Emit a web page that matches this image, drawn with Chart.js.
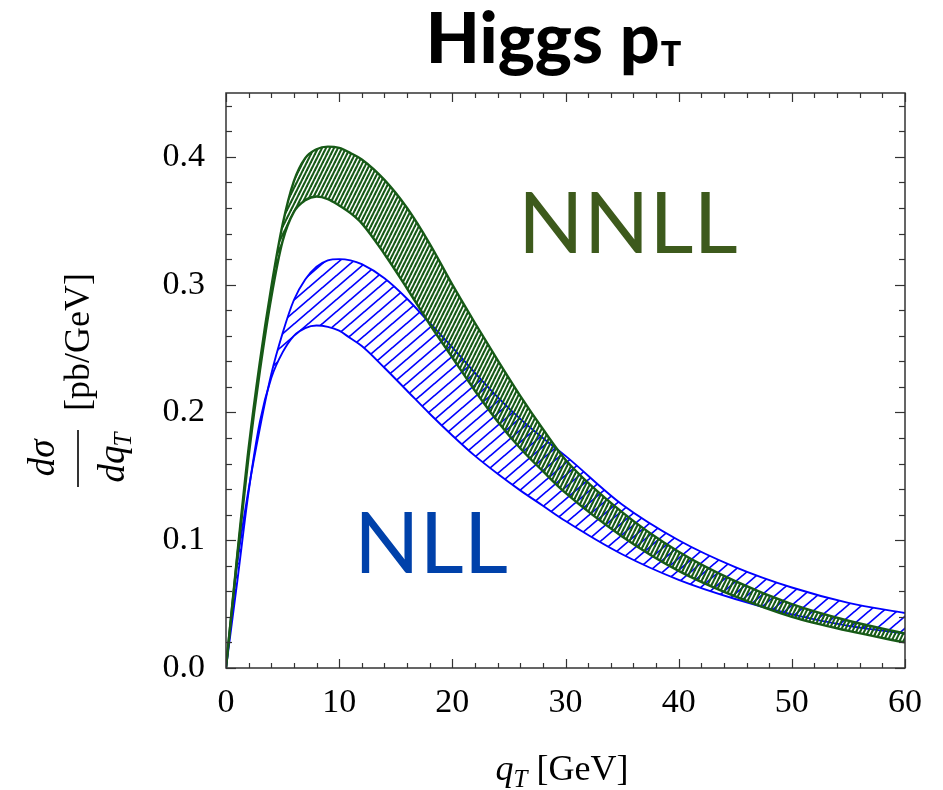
<!DOCTYPE html>
<html>
<head>
<meta charset="utf-8">
<script src="https://cdn.jsdelivr.net/npm/chart.js@4.4.0/dist/chart.umd.min.js"></script>
<style>
  html, body { margin: 0; padding: 0; background: #fff; }
  canvas { display: block; }
</style>
</head>
<body>
<canvas id="chart" width="943" height="790"></canvas>
<script>
// qT grid (GeV) and band edges (pb/GeV)
const qT = [0, 1, 2, 3, 4, 5, 6, 7, 8, 9, 10, 11, 12, 14, 16, 18, 20, 22, 24, 26, 28, 30, 35, 40, 45, 50, 55, 60];
const nnllUpper = [0, 0.089, 0.172, 0.240, 0.298, 0.347, 0.381, 0.399, 0.406, 0.408, 0.407, 0.403, 0.398, 0.382, 0.360, 0.332, 0.300, 0.270, 0.241, 0.213, 0.187, 0.163, 0.122, 0.091, 0.068, 0.050, 0.037, 0.027];
const nnllLower = [0, 0.087, 0.166, 0.233, 0.290, 0.334, 0.357, 0.366, 0.369, 0.367, 0.362, 0.356, 0.348, 0.324, 0.297, 0.269, 0.243, 0.217, 0.193, 0.172, 0.154, 0.137, 0.103, 0.076, 0.056, 0.040, 0.029, 0.020];
const nllUpper = [0, 0.082, 0.140, 0.188, 0.230, 0.262, 0.288, 0.304, 0.314, 0.319, 0.320, 0.319, 0.316, 0.305, 0.289, 0.270, 0.251, 0.231, 0.212, 0.195, 0.180, 0.166, 0.128, 0.100, 0.079, 0.063, 0.051, 0.043];
const nllLower = [0, 0.068, 0.138, 0.193, 0.227, 0.247, 0.260, 0.266, 0.268, 0.267, 0.264, 0.258, 0.252, 0.235, 0.217, 0.199, 0.182, 0.166, 0.152, 0.139, 0.127, 0.115, 0.089, 0.069, 0.054, 0.042, 0.033, 0.027];

const xTicks = [0, 10, 20, 30, 40, 50, 60];
const yTicks = [0, 0.1, 0.2, 0.3, 0.4];

const titleText = 'Higgs p';
const titleSub = 'T';
const bandNames = ['NNLL', 'NLL'];

const greenLine = '#175a17';
const blueLine = '#0000ff';

function hatch(w, h, color, width) {
  const c = document.createElement('canvas');
  c.width = w; c.height = h;
  const g = c.getContext('2d');
  g.strokeStyle = color;
  g.lineWidth = width;
  g.lineCap = 'square';
  [-w, 0, w].forEach(off => {
    g.beginPath();
    g.moveTo(off, h);
    g.lineTo(off + w, 0);
    g.stroke();
  });
  return g.createPattern(c, 'repeat');
}

function pts(ys) {
  return qT.map((q, i) => ({ x: q, y: ys[i] }));
}

const ctx = document.getElementById('chart').getContext('2d');

const decor = {
  id: 'decor',
  beforeDraw(chart) {
    const c = chart.ctx;
    c.save();
    c.fillStyle = '#fff';
    c.fillRect(0, 0, chart.width, chart.height);
    c.restore();
  },
  afterDatasetsDraw(chart) {
    const c = chart.ctx;
    const a = chart.chartArea;
    const x = chart.scales.x, y = chart.scales.y;
    c.save();
    c.strokeStyle = '#333';
    c.lineWidth = 1.2;
    const seg = (x1, y1, x2, y2) => { c.beginPath(); c.moveTo(x1, y1); c.lineTo(x2, y2); c.stroke(); };
    for (let q = 0; q <= 60; q += 2) {
      const px = Math.round(x.getPixelForValue(q)) + 0.5;
      const len = q % 10 === 0 ? 9 : 5;
      seg(px, a.bottom, px, a.bottom - len);
      seg(px, a.top, px, a.top + len);
    }
    for (let i = 0; i <= 22; i++) {
      const py = Math.round(y.getPixelForValue(i * 0.02)) + 0.5;
      const len = i % 5 === 0 ? 10 : 6;
      seg(a.left, py, a.left + len, py);
      seg(a.right, py, a.right - len, py);
    }
    c.lineWidth = 1.5;
    c.strokeRect(a.left, a.top, a.right - a.left, a.bottom - a.top);
    c.restore();
  },
  afterDraw(chart) {
    const c = chart.ctx;
    const x = chart.scales.x, y = chart.scales.y;
    c.save();
    c.fillStyle = '#000';
    c.textBaseline = 'alphabetic';

    // main title
    c.font = '900 70px Lato';
    const w1 = c.measureText(titleText).width;
    c.font = '900 34px Lato';
    const w2 = c.measureText(titleSub).width;
    let tx = 553 - (w1 + w2) / 2;
    c.font = '900 70px Lato';
    c.fillText(titleText, tx, 63);
    c.font = '900 34px Lato';
    c.fillText(titleSub, tx + w1 + 1, 66);

    // x axis title
    c.font = 'italic 36px "Liberation Serif"';
    const qw = c.measureText('q').width;
    c.font = 'italic 25px "Liberation Serif"';
    const tw = c.measureText('T').width;
    c.font = '36px "Liberation Serif"';
    const gw = c.measureText(' [GeV]').width;
    let xx = 562 - (qw + tw + gw) / 2;
    c.font = 'italic 36px "Liberation Serif"';
    c.fillText('q', xx, 780);
    c.font = 'italic 25px "Liberation Serif"';
    c.fillText('T', xx + qw, 787);
    c.font = '36px "Liberation Serif"';
    c.fillText(' [GeV]', xx + qw + tw, 780);

    // y axis title (rotated)
    c.translate(78, 380);
    c.rotate(-Math.PI / 2);
    c.textAlign = 'center';
    c.font = 'italic 37px "Liberation Serif"';
    c.fillText('dσ', -78, -24);
    c.lineWidth = 1.6;
    c.strokeStyle = '#000';
    c.beginPath(); c.moveTo(-107, 0); c.lineTo(-50, 0); c.stroke();
    c.textAlign = 'left';
    const dw = c.measureText('dq').width;
    const dx = -78 - (dw + 12) / 2;
    c.fillText('dq', dx, 46);
    c.font = 'italic 25px "Liberation Serif"';
    c.fillText('T', dx + dw - 1, 53);
    c.font = '36px "Liberation Serif"';
    c.textAlign = 'center';
    c.fillText('[pb/GeV]', 38, 11);
    c.restore();

    // band names
    c.save();
    c.font = '86px Lato';
    c.textBaseline = 'alphabetic';
    c.fillStyle = '#3d5a1c';
    c.fillText(bandNames[0], x.getPixelForValue(25.8), y.getPixelForValue(0.325));
    c.fillStyle = '#0041aa';
    c.fillText(bandNames[1], x.getPixelForValue(11.3), y.getPixelForValue(0.0744));
    c.restore();
  }
};

const chart = new Chart(ctx, {
  type: 'line',
  data: {
    datasets: [
      { label: 'NNLL low', data: pts(nnllLower), borderColor: greenLine, borderWidth: 2.4, fill: false, order: 1 },
      { label: 'NNLL high', data: pts(nnllUpper), borderColor: greenLine, borderWidth: 2.4,
        fill: '-1', backgroundColor: hatch(4, 8, '#175a17', 2.1), order: 1 },
      { label: 'NLL low', data: pts(nllLower), borderColor: blueLine, borderWidth: 1.9, fill: false, order: 2 },
      { label: 'NLL high', data: pts(nllUpper), borderColor: blueLine, borderWidth: 1.9,
        fill: '-1', backgroundColor: hatch(14, 12, blueLine, 1.7), order: 2 }
    ]
  },
  options: {
    responsive: false,
    animation: false,
    devicePixelRatio: 1,
    layout: { padding: { left: 0, right: 38, top: 93, bottom: 0 } },
    elements: {
      point: { radius: 0 },
      line: { cubicInterpolationMode: 'monotone' }
    },
    plugins: {
      legend: { display: false },
      tooltip: { enabled: false }
    },
    scales: {
      x: {
        type: 'linear', min: 0, max: 60,
        grid: { display: false }, border: { display: false },
        afterBuildTicks: s => { s.ticks = xTicks.map(v => ({ value: v })); },
        afterFit: s => { s.height = 122; },
        ticks: { color: '#000', padding: 7, maxRotation: 0, font: { family: 'Liberation Serif', size: 34 } }
      },
      y: {
        type: 'linear', min: 0, max: 0.45,
        grid: { display: false }, border: { display: false },
        afterBuildTicks: s => { s.ticks = yTicks.map(v => ({ value: v })); },
        afterFit: s => { s.width = 226; },
        ticks: { color: '#000', padding: 13, font: { family: 'Liberation Serif', size: 34 },
                 callback: v => v.toFixed(1) }
      }
    }
  },
  plugins: [decor]
});
</script>
</body>
</html>
